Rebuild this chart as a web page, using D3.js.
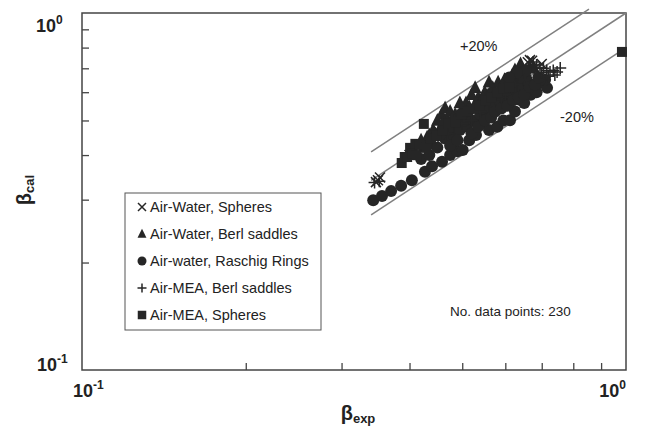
<!DOCTYPE html>
<html>
<head>
<meta charset="utf-8">
<script src="https://cdn.jsdelivr.net/npm/d3@7"></script>
<style>
  body { margin: 0; background: #fff; }
  svg { display: block; font-family: "Liberation Sans", Arial, sans-serif; }
</style>
</head>
<body>
<svg id="chart"></svg>
<script>
const W = 648;
const H = 430;

// ── Data ──────────────────────────────────────────────────────────────────────

const SPHERES_WATER = [
  [0.350, 0.340], [0.353, 0.346], [0.347, 0.336],
  [0.666, 0.738], [0.672, 0.735], [0.660, 0.728],
  [0.40, 0.40], [0.43, 0.43], [0.46, 0.45], [0.49, 0.48], [0.52, 0.52],
  [0.55, 0.54], [0.58, 0.57], [0.61, 0.60], [0.64, 0.64], [0.68, 0.70],
  [0.70, 0.72], [0.45, 0.47], [0.50, 0.50], [0.53, 0.50], [0.57, 0.55],
  [0.62, 0.62],
];

const BERL_WATER = [
  [0.420, 0.440], [0.431, 0.449], [0.442, 0.470], [0.450, 0.500], [0.458, 0.520],
  [0.465, 0.542], [0.470, 0.500], [0.478, 0.480], [0.485, 0.520], [0.492, 0.505],
  [0.500, 0.540], [0.508, 0.560], [0.515, 0.545], [0.520, 0.590], [0.528, 0.617],
  [0.535, 0.580], [0.542, 0.560], [0.550, 0.600], [0.558, 0.590], [0.569, 0.617],
  [0.575, 0.600], [0.582, 0.640], [0.590, 0.620], [0.598, 0.650], [0.605, 0.630],
  [0.612, 0.637], [0.618, 0.670], [0.625, 0.692], [0.635, 0.660], [0.645, 0.690],
  [0.655, 0.680], [0.665, 0.700], [0.675, 0.705], [0.440, 0.430], [0.455, 0.470],
  [0.475, 0.530], [0.495, 0.560], [0.530, 0.560], [0.560, 0.640], [0.600, 0.600],
  [0.640, 0.720], [0.460, 0.490], [0.480, 0.510], [0.505, 0.520], [0.525, 0.540],
  [0.545, 0.580], [0.565, 0.570], [0.585, 0.610], [0.610, 0.650], [0.630, 0.650],
  [0.650, 0.660], [0.435, 0.455], [0.425, 0.420],
];

const RASCHIG_WATER = [
  [0.343, 0.299], [0.356, 0.307], [0.370, 0.317], [0.386, 0.328], [0.404, 0.340],
  [0.427, 0.359], [0.440, 0.372], [0.459, 0.383],
  [0.475, 0.400], [0.490, 0.410], [0.501, 0.413], [0.515, 0.440], [0.530, 0.455],
  [0.546, 0.492], [0.560, 0.470], [0.580, 0.480], [0.595, 0.500], [0.612, 0.501],
  [0.625, 0.530], [0.638, 0.571], [0.650, 0.560], [0.668, 0.590], [0.685, 0.600],
  [0.704, 0.637], [0.716, 0.617], [0.710, 0.650], [0.695, 0.649],
  [0.420, 0.390], [0.435, 0.400], [0.450, 0.420], [0.465, 0.445], [0.480, 0.450],
  [0.495, 0.470], [0.510, 0.480], [0.525, 0.500], [0.540, 0.520], [0.555, 0.530],
  [0.570, 0.545], [0.585, 0.560], [0.600, 0.570], [0.615, 0.590], [0.630, 0.600],
  [0.645, 0.615], [0.660, 0.640], [0.598, 0.605], [0.620, 0.640], [0.640, 0.660],
  [0.655, 0.690], [0.585, 0.590], [0.560, 0.555], [0.545, 0.540], [0.505, 0.500],
  [0.470, 0.470], [0.455, 0.455], [0.630, 0.680], [0.610, 0.660],
  [0.475, 0.425], [0.490, 0.440], [0.520, 0.460], [0.535, 0.480], [0.550, 0.500],
  [0.565, 0.510], [0.575, 0.530], [0.590, 0.540], [0.605, 0.550], [0.620, 0.570],
  [0.635, 0.580], [0.650, 0.590], [0.665, 0.620], [0.680, 0.630], [0.690, 0.660],
];

const BERL_MEA = [
  [0.345, 0.335], [0.352, 0.338],
  [0.675, 0.729], [0.685, 0.715], [0.695, 0.701], [0.705, 0.700], [0.715, 0.690],
  [0.725, 0.684], [0.735, 0.690], [0.747, 0.684], [0.757, 0.701], [0.740, 0.670],
  [0.720, 0.665], [0.700, 0.680],
  [0.41, 0.41], [0.44, 0.44], [0.47, 0.46], [0.50, 0.49], [0.52, 0.50],
  [0.54, 0.53], [0.56, 0.55], [0.59, 0.58], [0.62, 0.61], [0.65, 0.65],
  [0.48, 0.50], [0.51, 0.53], [0.55, 0.57], [0.60, 0.59], [0.63, 0.63],
];

const SPHERES_MEA = [
  [0.387, 0.380], [0.392, 0.395], [0.396, 0.395], [0.401, 0.419], [0.405, 0.405],
  [0.410, 0.430], [0.418, 0.427], [0.412, 0.400], [0.425, 0.489], [0.430, 0.420],
  [0.438, 0.445], [0.448, 0.455], [0.460, 0.470], [0.472, 0.490], [0.485, 0.495],
  [0.498, 0.520], [0.512, 0.530], [0.525, 0.540], [0.538, 0.550], [0.552, 0.570],
  [0.565, 0.580], [0.580, 0.600], [0.595, 0.615], [0.610, 0.620], [0.983, 0.778],
];

const SERIES = [
  { label: 'Air-Water, Spheres',        symbol: 'x',        data: SPHERES_WATER },
  { label: 'Air-Water, Berl saddles',   symbol: 'triangle', data: BERL_WATER },
  { label: 'Air-water, Raschig Rings',  symbol: 'circle',   data: RASCHIG_WATER },
  { label: 'Air-MEA, Berl saddles',     symbol: 'plus',     data: BERL_MEA },
  { label: 'Air-MEA, Spheres',          symbol: 'square',   data: SPHERES_MEA },
];

// parity lines: y = ratio * x
const RATIOS = [1.2, 1.0, 0.8];
const RATIO_X = [[0.34, 0.855], [0.34, 1.0], [0.34, 1.0]];

const X_TICKS = [0.2, 0.3, 0.4, 0.5, 0.6, 0.7, 0.8, 0.9];
const Y_TICKS = [0.2, 0.3, 0.4, 0.5, 0.6, 0.7, 0.8, 0.9];

// ── Layout ────────────────────────────────────────────────────────────────────

const M = { left: 82, right: 626, top: 13, bottom: 370 };
const INK = '#262626';

const x = d3.scaleLog().domain([0.1, 1]).range([M.left, M.right]);
const y = d3.scaleLog().domain([0.1, 1]).range([M.bottom, M.top]);

const svg = d3.select('#chart').attr('width', W).attr('height', H);

// ── Frame & ticks ─────────────────────────────────────────────────────────────

svg.append('rect')
  .attr('x', M.left).attr('y', M.top)
  .attr('width', M.right - M.left).attr('height', M.bottom - M.top)
  .attr('fill', 'none').attr('stroke', '#444').attr('stroke-width', 1.5);

svg.append('g')
  .attr('transform', `translate(0,${M.bottom})`)
  .call(d3.axisBottom(x).tickValues(X_TICKS).tickSize(-7).tickFormat(''))
  .call(g => g.select('.domain').remove())
  .selectAll('line').attr('stroke', '#444').attr('stroke-width', 1.3);

svg.append('g')
  .attr('transform', `translate(${M.left},0)`)
  .call(d3.axisLeft(y).tickValues(Y_TICKS).tickSize(-7).tickFormat(''))
  .call(g => g.select('.domain').remove())
  .selectAll('line').attr('stroke', '#444').attr('stroke-width', 1.3);

function powLabel(px, py, exp, anchor) {
  const t = svg.append('text')
    .attr('x', px).attr('y', py)
    .attr('text-anchor', anchor)
    .attr('font-weight', 'bold').attr('font-size', 18).attr('fill', '#222');
  t.append('tspan').text('10');
  t.append('tspan').attr('dy', -8).attr('font-size', 12).text(exp);
}

powLabel(36, 32, '0', 'start');
powLabel(37, 371, '-1', 'start');
powLabel(73, 397, '-1', 'start');
powLabel(626, 397, '0', 'end');

// axis titles
const yt = svg.append('text')
  .attr('transform', 'translate(31,190) rotate(-90)')
  .attr('text-anchor', 'middle')
  .attr('font-weight', 'bold').attr('fill', '#222');
yt.append('tspan').attr('font-size', 20).text('β');
yt.append('tspan').attr('font-size', 13).attr('dy', 3).text('cal');

const xt = svg.append('text')
  .attr('x', 358).attr('y', 420)
  .attr('text-anchor', 'middle')
  .attr('font-weight', 'bold').attr('fill', '#222');
xt.append('tspan').attr('font-size', 20).text('β');
xt.append('tspan').attr('font-size', 13).attr('dy', 3).text('exp');

// ── Parity lines ──────────────────────────────────────────────────────────────

const line = d3.line().x(d => x(d[0])).y(d => y(d[1]));

RATIOS.forEach((r, i) => {
  svg.append('path')
    .attr('d', line(RATIO_X[i].map(v => [v, v * r])))
    .attr('fill', 'none').attr('stroke', '#808080').attr('stroke-width', 1.5);
});

svg.append('text').attr('x', 460).attr('y', 51)
  .attr('font-size', 14.5).attr('fill', '#222').text('+20%');
svg.append('text').attr('x', 560).attr('y', 122)
  .attr('font-size', 14.5).attr('fill', '#222').text('-20%');
svg.append('text').attr('x', 450).attr('y', 316)
  .attr('font-size', 13.5).attr('fill', '#222').text('No. data points: 230');

// ── Markers ───────────────────────────────────────────────────────────────────

function drawMarker(g, symbol, cx, cy, scale) {
  const s = scale || 1;
  if (symbol === 'circle') {
    g.append('circle').attr('cx', cx).attr('cy', cy).attr('r', 6 * s).attr('fill', INK);
  } else if (symbol === 'square') {
    const h = 5 * s;
    g.append('rect').attr('x', cx - h).attr('y', cy - h)
      .attr('width', 2 * h).attr('height', 2 * h).attr('fill', INK);
  } else if (symbol === 'triangle') {
    const h = 7.5 * s;
    g.append('path')
      .attr('d', `M${cx},${cy - h}L${cx + h * 0.85},${cy + h * 0.7}L${cx - h * 0.85},${cy + h * 0.7}Z`)
      .attr('fill', INK);
  } else if (symbol === 'x') {
    const h = 5 * s;
    g.append('path')
      .attr('d', `M${cx - h},${cy - h}L${cx + h},${cy + h}M${cx - h},${cy + h}L${cx + h},${cy - h}`)
      .attr('stroke', INK).attr('stroke-width', 1.5);
  } else if (symbol === 'plus') {
    const h = 6 * s;
    g.append('path')
      .attr('d', `M${cx - h},${cy}L${cx + h},${cy}M${cx},${cy - h}L${cx},${cy + h}`)
      .attr('stroke', INK).attr('stroke-width', 1.5);
  }
}

const marks = svg.append('g');
SERIES.forEach(s => {
  s.data.forEach(d => drawMarker(marks, s.symbol, x(d[0]), y(d[1])));
});

// ── Legend ────────────────────────────────────────────────────────────────────

const legend = svg.append('g');
legend.append('rect')
  .attr('x', 125).attr('y', 193).attr('width', 196).attr('height', 137)
  .attr('fill', '#fff').attr('stroke', '#555').attr('stroke-width', 1);

const LEGEND_SCALE = [0.8, 0.7, 0.75, 0.75, 0.85];
SERIES.forEach((s, i) => {
  const cy = 207 + i * 27;
  drawMarker(legend, s.symbol, 142, cy, LEGEND_SCALE[i]);
  legend.append('text')
    .attr('x', 150).attr('y', cy + 5)
    .attr('font-size', 14.5).attr('fill', '#222')
    .text(s.label);
});
</script>
</body>
</html>
